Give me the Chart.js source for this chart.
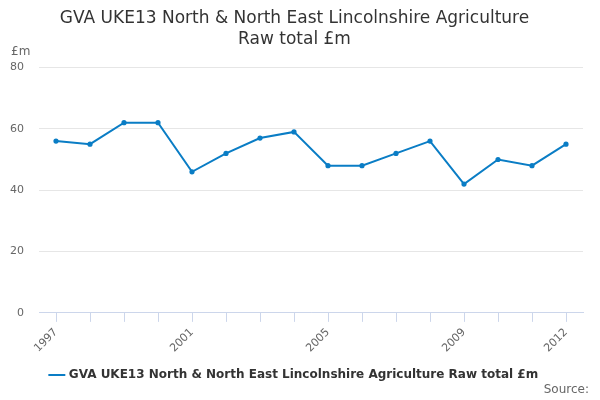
<!DOCTYPE html>
<html>
<head>
<meta charset="utf-8">
<script src="https://cdn.jsdelivr.net/npm/chart.js@4"></script>
<style>
  html, body { margin: 0; padding: 0; background: #fff; }
  #wrap { position: relative; width: 600px; height: 400px; }
</style>
</head>
<body>
<div id="wrap"><canvas id="chart"></canvas></div>
<script>
const years = ["1997", "1998", "1999", "2000", "2001", "2002", "2003", "2004",
  "2005", "2006", "2007", "2008", "2009", "2010", "2011", "2012"];
const gvaValues = [56, 55, 62, 62, 46, 52, 57, 59, 48, 48, 52, 56, 42, 50, 48, 55];
const shownYears = ["1997", "2001", "2005", "2009", "2012"];
const seriesName = "GVA UKE13 North & North East Lincolnshire Agriculture Raw total £m";

const font = "'DejaVu Sans', sans-serif";

// unit label top-left and "Source:" bottom-right
const extras = {
  id: "extras",
  afterDraw(chart) {
    const ctx = chart.ctx;
    ctx.save();
    ctx.fillStyle = "#666";
    ctx.font = "12px " + font;
    ctx.textBaseline = "middle";
    ctx.textAlign = "left";
    ctx.fillText("£m", 11, 52);
    ctx.font = "12px " + font;
    ctx.textAlign = "right";
    ctx.fillText("Source:", 589, 390);
    ctx.restore();
  }
};

new Chart(document.getElementById("chart"), {
  type: "line",
  data: {
    labels: years,
    datasets: [{
      label: seriesName,
      data: gvaValues,
      borderColor: "#0a7dc5",
      backgroundColor: "#0a7dc5",
      borderWidth: 2,
      pointRadius: 1.6,
      pointHoverRadius: 3,
      tension: 0
    }]
  },
  options: {
    responsive: true,
    maintainAspectRatio: false,
    animation: false,
    layout: { padding: { left: 6, right: 17, top: 0, bottom: 9 } },
    plugins: {
      title: {
        display: true,
        text: ["GVA UKE13 North & North East Lincolnshire Agriculture", "Raw total £m"],
        color: "#333",
        font: { family: font, size: 17, weight: "normal", lineHeight: 1.25 },
        padding: { top: 8, bottom: 17 }
      },
      legend: {
        position: "bottom",
        labels: {
          color: "#333",
          font: { family: font, size: 12, weight: "bold" },
          usePointStyle: true,
          pointStyle: "line",
          boxWidth: 20,
          padding: 10
        }
      },
      tooltip: { enabled: false }
    },
    scales: {
      x: {
        offset: true,
        grid: {
          display: true,
          offset: false,
          drawOnChartArea: false,
          drawTicks: true,
          tickLength: 9,
          color: "#ccd6eb"
        },
        border: { display: true, color: "#ccd6eb" },
        ticks: {
          autoSkip: false,
          maxRotation: 45,
          minRotation: 45,
          padding: 4,
          color: "#666",
          font: { family: font, size: 11 },
          callback(value) {
            const y = this.getLabelForValue(value);
            return shownYears.includes(y) ? y : "";
          }
        }
      },
      y: {
        min: 0,
        max: 80,
        ticks: {
          stepSize: 20,
          color: "#666",
          font: { family: font, size: 11 },
          padding: 15
        },
        grid: { color: "#e6e6e6", drawTicks: false },
        border: { display: false },
        afterFit(scale) { scale.width = 33; }
      }
    }
  },
  plugins: [extras]
});
</script>
</body>
</html>
